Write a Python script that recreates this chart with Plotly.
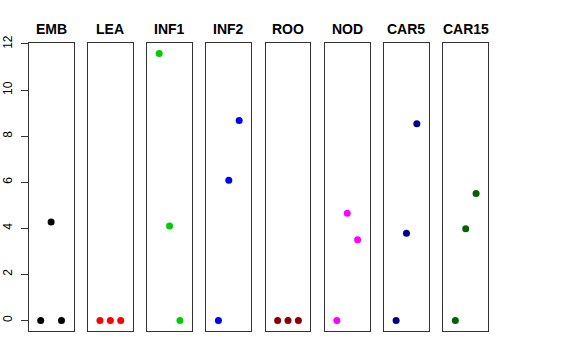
import plotly.graph_objects as go

categories = ["EMB", "LEA", "INF1", "INF2", "ROO", "NOD", "CAR5", "CAR15"]
x_positions = [1, 2, 3]
values = {
    "EMB":   [0, 4.27, 0],
    "LEA":   [0, 0, 0],
    "INF1":  [11.58, 4.10, 0],
    "INF2":  [0, 6.08, 8.68],
    "ROO":   [0, 0, 0],
    "NOD":   [0, 4.65, 3.50],
    "CAR5":  [0, 3.78, 8.54],
    "CAR15": [0, 3.98, 5.51],
}
colors = ["#000000", "#FF0000", "#00CD00", "#0000FF", "#8B0000", "#FF00FF", "#00008B", "#006400"]
y_ticks = [0, 2, 4, 6, 8, 10, 12]

W, H = 576, 360
left0, step, pw = 28.7, 59.23, 44.8
top_px, bot_px = 43, 331

fig = go.Figure()
layout = dict(
    width=W, height=H, margin=dict(l=0, r=0, t=0, b=0, pad=0, autoexpand=False),
    paper_bgcolor="white", plot_bgcolor="white", showlegend=False,
    font=dict(family="Liberation Sans, Arial, sans-serif", color="black"),
)
annotations = []
for i, cat in enumerate(categories):
    n = "" if i == 0 else str(i + 1)
    fig.add_trace(go.Scatter(
        x=x_positions, y=values[cat], mode="markers",
        marker=dict(color=colors[i], size=7, line=dict(width=0)),
        xaxis="x" + n, yaxis="y" + n, hoverinfo="skip"))
    l = left0 + i * step
    layout["xaxis" + n] = dict(
        domain=[l / W, (l + pw) / W], range=[-0.16, 4.16],
        showline=True, mirror=True, linecolor="#333333", linewidth=1,
        showgrid=False, zeroline=False, showticklabels=False, ticks="",
        anchor="y" + n, fixedrange=True, automargin=False)
    ya = dict(
        domain=[(H - bot_px) / H, (H - top_px) / H], range=[-0.46, 12.04],
        showline=True, mirror=True, linecolor="#333333", linewidth=1,
        showgrid=False, zeroline=False, anchor="x" + n, fixedrange=True,
        automargin=False)
    if i == 0:
        ya.update(ticks="outside", ticklen=7, tickcolor="#333333", tickwidth=1,
                  tickvals=y_ticks, ticktext=[str(v) for v in y_ticks],
                  tickangle=-90, ticklabelstandoff=4,
                  tickfont=dict(size=12, color="black"))
    else:
        ya.update(showticklabels=False, ticks="")
    layout["yaxis" + n] = ya
    annotations.append(dict(
        text="<b>" + cat + "</b>", x=(l + pw / 2) / W, y=(H - 29) / H,
        xref="paper", yref="paper", xanchor="center", yanchor="middle",
        showarrow=False, font=dict(size=14, color="black")))
layout["annotations"] = annotations
fig.update_layout(**layout)
fig.write_html("out.html", config={"displayModeBar": False},
               post_script="document.body.style.margin='0';")
